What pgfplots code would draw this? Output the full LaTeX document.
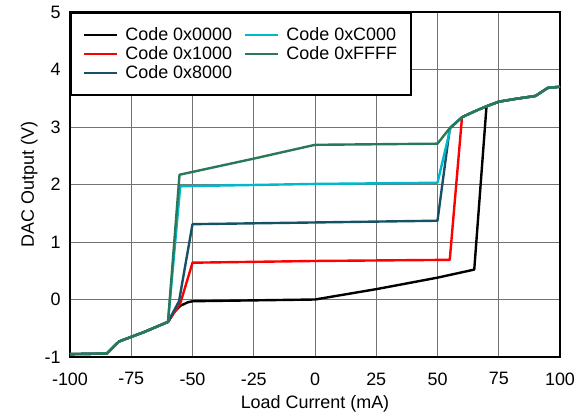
\documentclass[border=0pt]{standalone}
\usepackage{pgfplots}
\pgfplotsset{compat=1.18}
\usepackage{fontspec}
\setmainfont{Liberation Sans}
\definecolor{cteal}{RGB}{22,82,102}
\definecolor{ccyan}{RGB}{0,184,204}
\definecolor{cgreen}{RGB}{42,120,88}
\begin{document}
\begin{tikzpicture}
\begin{axis}[
  scale only axis, width=490bp, height=345bp,
  xmin=-100, xmax=100, ymin=-1, ymax=5,
  xtick={-100,-75,...,100}, ytick={-1,0,...,5},
  grid=major, major grid style={black!55, line width=0.8bp},
  major tick length=0pt,
  axis line style={black, line width=2.4bp},
  /pgf/number format/assume math mode=true,
  tick label style={font=\fontsize{18}{21}\selectfont},
  xticklabel style={yshift=-12bp},
  yticklabel style={xshift=-6bp},
  label style={font=\fontsize{18}{21}\selectfont},
  xlabel={Load Current (mA)}, ylabel={DAC Output (V)},
  xlabel style={yshift=-3bp}, ylabel style={yshift=0bp},
  legend columns=2,
  legend cell align=left,
  legend style={at={(0,1)}, anchor=north west, draw=black, line width=2bp, fill=white,
    font=\fontsize{18}{21}\selectfont, inner xsep=12bp, inner ysep=13bp,
    row sep=0.5bp,
    /tikz/every odd column/.append style={column sep=5bp},
    /tikz/every even column/.append style={column sep=10bp}},
  legend image code/.code={\draw[#1, line width=2.4bp] (0bp,0bp) -- (33bp,0bp);},
  every axis plot/.append style={line width=2.4bp, line join=round},
]
\addlegendimage{black}\addlegendentry{Code 0x0000}
\addlegendimage{ccyan}\addlegendentry{Code 0xC000}
\addlegendimage{red}\addlegendentry{Code 0x1000}
\addlegendimage{cgreen}\addlegendentry{Code 0xFFFF}
\addlegendimage{cteal}\addlegendentry{Code 0x8000}

\addplot[black, forget plot] coordinates {(-100,-0.95) (-85,-0.94) (-80,-0.73) (-70,-0.57) (-60,-0.39) (-57.5,-0.22) (-55,-0.11) (-52,-0.05) (-50,-0.03) (0,0.0) (25,0.18) (50,0.38) (65,0.52) (70,3.36) (75,3.44) (82,3.49) (90,3.54) (95,3.68) (100,3.7)};
\addplot[red, forget plot] coordinates {(-100,-0.95) (-85,-0.94) (-80,-0.73) (-70,-0.57) (-60,-0.39) (-55,-0.07) (-50,0.64) (0,0.67) (55,0.69) (60,3.17) (65,3.27) (70,3.36) (75,3.44) (82,3.49) (90,3.54) (95,3.68) (100,3.7)};
\addplot[cteal, forget plot] coordinates {(-100,-0.95) (-85,-0.94) (-80,-0.73) (-70,-0.57) (-60,-0.39) (-55.5,-0.03) (-50,1.31) (0,1.34) (50,1.37) (55,2.97) (60,3.17) (65,3.27) (70,3.36) (75,3.44) (82,3.49) (90,3.54) (95,3.68) (100,3.7)};
\addplot[ccyan, forget plot] coordinates {(-100,-0.95) (-85,-0.94) (-80,-0.73) (-70,-0.57) (-60,-0.39) (-55,1.97) (0,2.01) (50,2.03) (55.4,3.0) (60,3.17) (65,3.27) (70,3.36) (75,3.44) (82,3.49) (90,3.54) (95,3.68) (100,3.7)};
\addplot[cgreen, forget plot] coordinates {(-100,-0.95) (-85,-0.94) (-80,-0.73) (-70,-0.57) (-60,-0.39) (-55.3,2.17) (-25,2.45) (0,2.69) (50,2.71) (55,2.98) (60,3.17) (65,3.27) (70,3.36) (75,3.44) (82,3.49) (90,3.54) (95,3.68) (100,3.7)};
\end{axis}
\pgfresetboundingbox
\path (current axis.south west) ++(-70bp,-58bp) rectangle ++(585bp,415bp);
\end{tikzpicture}
\end{document}
